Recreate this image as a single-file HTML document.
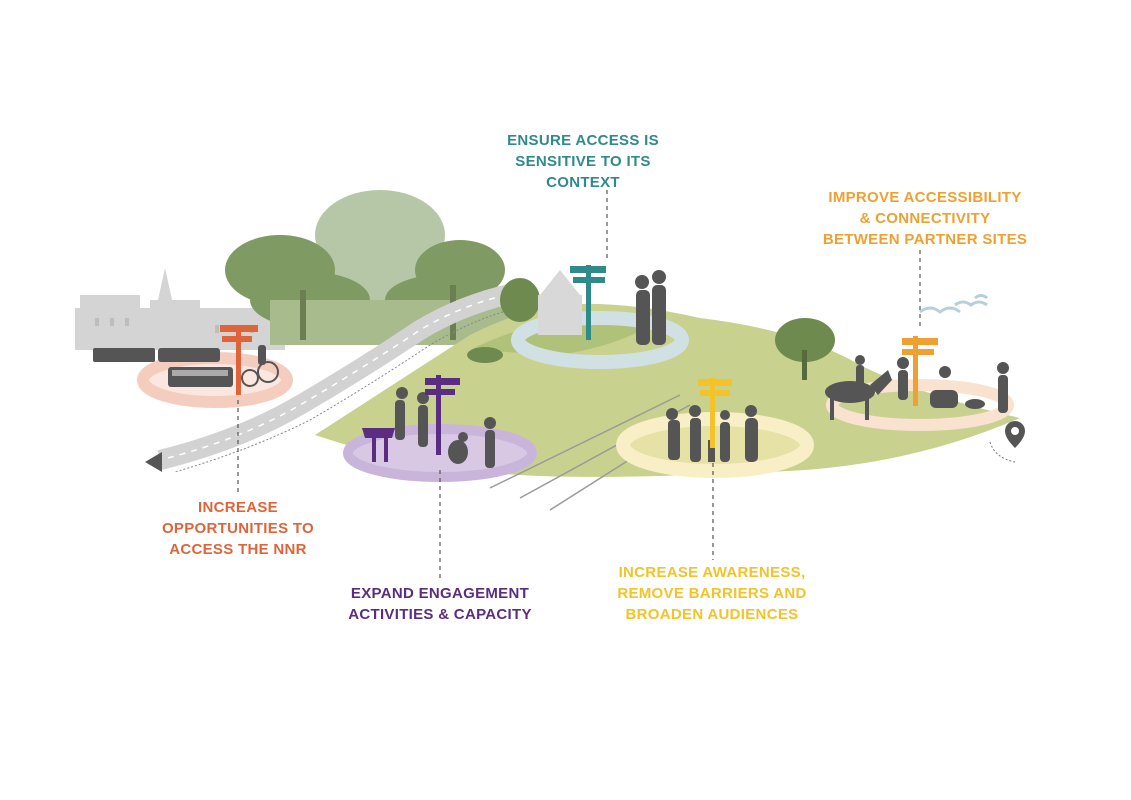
<!DOCTYPE html>
<html><head><meta charset="utf-8"><style>
html,body{margin:0;padding:0;background:#fff;}
svg{display:block}
text{font-family:"Liberation Sans",sans-serif;font-weight:bold;font-size:15px;letter-spacing:0.3px}
</style></head><body>
<svg width="1131" height="800" viewBox="0 0 1131 800" xmlns="http://www.w3.org/2000/svg">
<g fill="#d4d4d4">
<rect x="75" y="308" width="210" height="42"/>
<rect x="80" y="295" width="60" height="20"/>
<rect x="150" y="300" width="50" height="15"/>
<polygon points="158,300 165,268 172,300"/>
<rect x="205" y="318" width="80" height="30"/>
</g>
<g fill="#bdbdbd"><rect x="95" y="318" width="4" height="8"/><rect x="110" y="318" width="4" height="8"/><rect x="125" y="318" width="4" height="8"/><rect x="215" y="325" width="4" height="8"/><rect x="250" y="325" width="4" height="8"/></g>
<g fill="#9eb58a" opacity="0.75">
<ellipse cx="380" cy="235" rx="65" ry="45"/><ellipse cx="400" cy="280" rx="90" ry="40"/>
</g>
<g fill="#7f9a62">
<ellipse cx="280" cy="270" rx="55" ry="35"/><ellipse cx="310" cy="300" rx="60" ry="28"/>
<ellipse cx="460" cy="270" rx="45" ry="30"/><ellipse cx="440" cy="300" rx="55" ry="25"/>
</g>
<rect x="270" y="300" width="250" height="45" fill="#a7bb8c"/>
<g fill="#6b7f52"><rect x="300" y="290" width="6" height="50"/><rect x="450" y="285" width="6" height="55"/></g>
<path d="M315,435 Q400,380 470,335 Q520,310 560,305 Q620,300 700,318 Q800,330 860,365 Q920,395 1020,418 Q900,470 760,472 Q600,480 520,475 Q420,470 315,435Z" fill="#c9d18f"/>
<path d="M470,350 Q560,305 650,325 Q620,345 560,355Z" fill="#b0c17a"/>
<path d="M530,290 Q470,300 420,330 Q360,370 300,405 Q240,440 160,460" stroke="#d2d2d2" stroke-width="20" fill="none"/>
<path d="M530,290 Q470,300 420,330 Q360,370 300,405 Q240,440 160,460" stroke="#fff" stroke-width="1.5" stroke-dasharray="6,6" fill="none"/>
<path d="M530,305 Q480,315 430,345 Q370,385 310,420 Q250,450 175,472" stroke="#888" stroke-width="1" stroke-dasharray="2,2" fill="none"/>
<polygon points="145,462 162,452 162,472" fill="#555"/>
<g fill="#6f8a4f"><ellipse cx="805" cy="340" rx="30" ry="22"/><rect x="802" y="350" width="5" height="30" fill="#556b3d"/>
<ellipse cx="485" cy="355" rx="18" ry="8"/><ellipse cx="520" cy="300" rx="20" ry="22"/></g>
<g stroke="#9a9a9a" stroke-width="1.5" fill="none">
<path d="M490,488 L680,395"/><path d="M520,498 L690,405"/><path d="M550,510 L700,415"/>
</g>
<ellipse cx="215" cy="380" rx="72" ry="22" fill="#fbe7df" stroke="#f5cdbf" stroke-width="12"/>
<ellipse cx="440" cy="453" rx="92" ry="24" fill="#d8c8e4" stroke="#c9b5da" stroke-width="10"/>
<ellipse cx="600" cy="340" rx="82" ry="22" fill="none" stroke="#d1e0e2" stroke-width="14"/>
<ellipse cx="715" cy="445" rx="92" ry="26" fill="#e6e2a6" stroke="#f8efc6" stroke-width="14"/>
<ellipse cx="920" cy="405" rx="88" ry="20" fill="none" stroke="#f9e3d0" stroke-width="12"/>
<g fill="#d8d8d8"><polygon points="540,295 560,270 580,295"/><rect x="538" y="295" width="44" height="40"/></g>
<g fill="#555"><rect x="93" y="348" width="62" height="14" rx="2"/><rect x="158" y="348" width="62" height="14" rx="3"/><rect x="168" y="367" width="65" height="20" rx="3"/></g>
<g fill="#aaa"><rect x="172" y="370" width="56" height="6"/></g>
<g fill="#555">
<circle cx="268" cy="372" r="10" fill="none" stroke="#555" stroke-width="2"/><circle cx="250" cy="378" r="8" fill="none" stroke="#555" stroke-width="2"/><rect x="258" y="345" width="8" height="20" rx="3"/>
<rect x="395" y="400" width="10" height="40" rx="4"/><circle cx="402" cy="393" r="6"/>
<rect x="418" y="405" width="10" height="42" rx="4"/><circle cx="423" cy="398" r="6"/>
<ellipse cx="458" cy="452" rx="10" ry="12"/><circle cx="463" cy="437" r="5"/>
<rect x="485" y="430" width="10" height="38" rx="4"/><circle cx="490" cy="423" r="6"/>
<rect x="636" y="290" width="14" height="55" rx="5"/><circle cx="642" cy="282" r="7"/>
<rect x="652" y="285" width="14" height="60" rx="5"/><circle cx="659" cy="277" r="7"/>
<rect x="668" y="420" width="12" height="40" rx="4"/><circle cx="672" cy="414" r="6"/>
<rect x="690" y="418" width="11" height="44" rx="4"/><circle cx="695" cy="411" r="6"/>
<rect x="708" y="440" width="7" height="22"/><rect x="720" y="422" width="10" height="40" rx="4"/><circle cx="725" cy="415" r="5"/>
<rect x="745" y="418" width="13" height="44" rx="5"/><circle cx="751" cy="411" r="6"/>
<ellipse cx="850" cy="392" rx="25" ry="11"/><rect x="830" y="395" width="4" height="25"/><rect x="865" y="395" width="4" height="25"/><polygon points="870,385 888,370 892,380 878,395"/>
<rect x="856" y="365" width="8" height="22" rx="3"/><circle cx="860" cy="360" r="5"/>
<rect x="898" y="370" width="10" height="30" rx="4"/><circle cx="903" cy="363" r="6"/>
<rect x="930" y="390" width="28" height="18" rx="6"/><circle cx="945" cy="372" r="6"/>
<ellipse cx="975" cy="404" rx="10" ry="5"/>
<rect x="998" y="375" width="10" height="38" rx="4"/><circle cx="1003" cy="368" r="6"/>
</g>
<g fill="#5b2d82"><polygon points="362,428 395,428 392,438 365,438"/><rect x="372" y="436" width="4" height="26"/><rect x="384" y="436" width="4" height="26"/></g>
<g>
<rect x="236" y="325" width="5" height="70" fill="#e0643a"/><rect x="220" y="325" width="38" height="7" fill="#e0643a"/><rect x="222" y="336" width="30" height="6" fill="#e0643a"/>
<rect x="436" y="375" width="5" height="80" fill="#5b2d82"/><rect x="425" y="378" width="35" height="7" fill="#5b2d82"/><rect x="425" y="389" width="30" height="6" fill="#5b2d82"/>
<rect x="586" y="265" width="5" height="75" fill="#2f8a8a"/><rect x="570" y="266" width="36" height="7" fill="#2f8a8a"/><rect x="573" y="277" width="32" height="6" fill="#2f8a8a"/>
<rect x="710" y="378" width="5" height="70" fill="#f5c228"/><rect x="698" y="379" width="34" height="7" fill="#f5c228"/><rect x="700" y="390" width="30" height="6" fill="#f5c228"/>
<rect x="913" y="336" width="5" height="70" fill="#f0a030"/><rect x="902" y="338" width="36" height="7" fill="#f0a030"/><rect x="902" y="349" width="32" height="6" fill="#f0a030"/>
</g>
<g stroke="#b7cfd9" stroke-width="3" fill="none"><path d="M920,312 q10,-8 20,0 q10,-8 20,0"/><path d="M955,305 q8,-6 16,0 q8,-6 16,0"/><path d="M975,298 q6,-5 12,0"/></g>
<path d="M1015,448 q-10,-10 -10,-17 a10,10 0 0 1 20,0 q0,7 -10,17Z" fill="#555"/><circle cx="1015" cy="431" r="4" fill="#fff"/>
<path d="M990,442 Q995,458 1015,462" stroke="#777" stroke-dasharray="2,2" fill="none"/>
<g stroke="#555" stroke-width="1.2" stroke-dasharray="4,4" fill="none">
<line x1="607" y1="190" x2="607" y2="262"/>
<line x1="920" y1="250" x2="920" y2="330"/>
<line x1="238" y1="400" x2="238" y2="495"/>
<line x1="440" y1="470" x2="440" y2="578"/>
<line x1="713" y1="455" x2="713" y2="560"/>
</g>
<g text-anchor="middle">
<text x="583" y="145" fill="#2f8a8a">ENSURE ACCESS IS</text>
<text x="583" y="166" fill="#2f8a8a">SENSITIVE TO ITS</text>
<text x="583" y="187" fill="#2f8a8a">CONTEXT</text>
<text x="925" y="202" fill="#f0a030">IMPROVE ACCESSIBILITY</text>
<text x="925" y="223" fill="#f0a030">&amp; CONNECTIVITY</text>
<text x="925" y="244" fill="#f0a030">BETWEEN PARTNER SITES</text>
<text x="238" y="512" fill="#e0643a">INCREASE</text>
<text x="238" y="533" fill="#e0643a">OPPORTUNITIES TO</text>
<text x="238" y="554" fill="#e0643a">ACCESS THE NNR</text>
<text x="440" y="598" fill="#5b2d82">EXPAND ENGAGEMENT</text>
<text x="440" y="619" fill="#5b2d82">ACTIVITIES &amp; CAPACITY</text>
<text x="712" y="577" fill="#f5c228">INCREASE AWARENESS,</text>
<text x="712" y="598" fill="#f5c228">REMOVE BARRIERS AND</text>
<text x="712" y="619" fill="#f5c228">BROADEN AUDIENCES</text>
</g>
</svg>
</body></html>
